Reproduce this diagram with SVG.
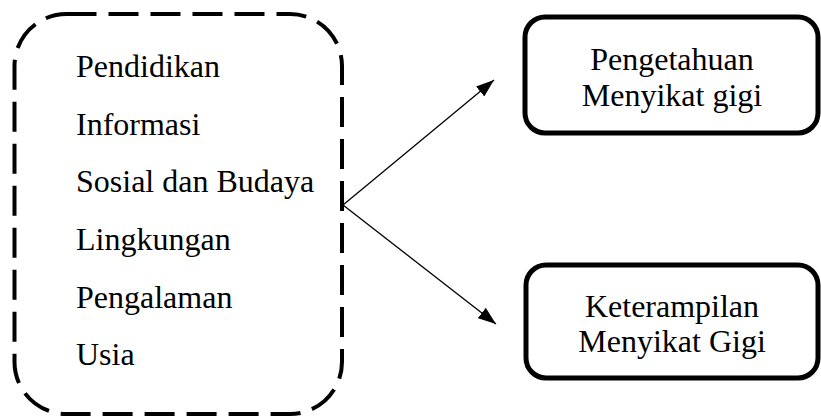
<svg xmlns="http://www.w3.org/2000/svg" width="821" height="419" viewBox="0 0 821 419" font-family="'Liberation Serif', 'Times New Roman', serif">
<style>
text{font-family:"Liberation Serif","Times New Roman",serif;font-size:32px;fill:#000}
.dash{fill:none;stroke:#000;stroke-width:4;stroke-dasharray:30 12}
.box{fill:#fff;stroke:#000;stroke-width:5}
.c{text-anchor:middle}
.conn{stroke:#000;stroke-width:1.3;fill:none}
</style>
<defs>
<marker id="ah" viewBox="0 0 18 13" refX="18" refY="6.5" markerWidth="18" markerHeight="13" markerUnits="userSpaceOnUse" orient="auto">
<path d="M0,0 L18,6.5 L0,13 Z" fill="#000"/>
</marker>
</defs>
<rect width="821" height="419" fill="#fff"/>
<g id="factors">
<rect class="dash" x="14.5" y="14" width="327.5" height="400" rx="52" ry="52"/>
<text x="76" y="77">Pendidikan</text>
<text x="76" y="135">Informasi</text>
<text x="76" y="192">Sosial dan Budaya</text>
<text x="76" y="250">Lingkungan</text>
<text x="76" y="308">Pengalaman</text>
<text x="76" y="365">Usia</text>
</g>
<g id="connectors">
<line class="conn" x1="343" y1="205" x2="494" y2="80" marker-end="url(#ah)"/>
<line class="conn" x1="343" y1="205" x2="496" y2="324" marker-end="url(#ah)"/>
</g>
<g id="pengetahuan">
<rect class="box" x="525" y="17" width="293" height="116" rx="20" ry="20"/>
<text class="c" x="672" y="70">Pengetahuan</text>
<text class="c" x="672" y="106">Menyikat gigi</text>
</g>
<g id="keterampilan">
<rect class="box" x="526" y="265" width="292" height="113" rx="20" ry="20"/>
<text class="c" x="672" y="317">Keterampilan</text>
<text class="c" x="672" y="352">Menyikat Gigi</text>
</g>
</svg>
